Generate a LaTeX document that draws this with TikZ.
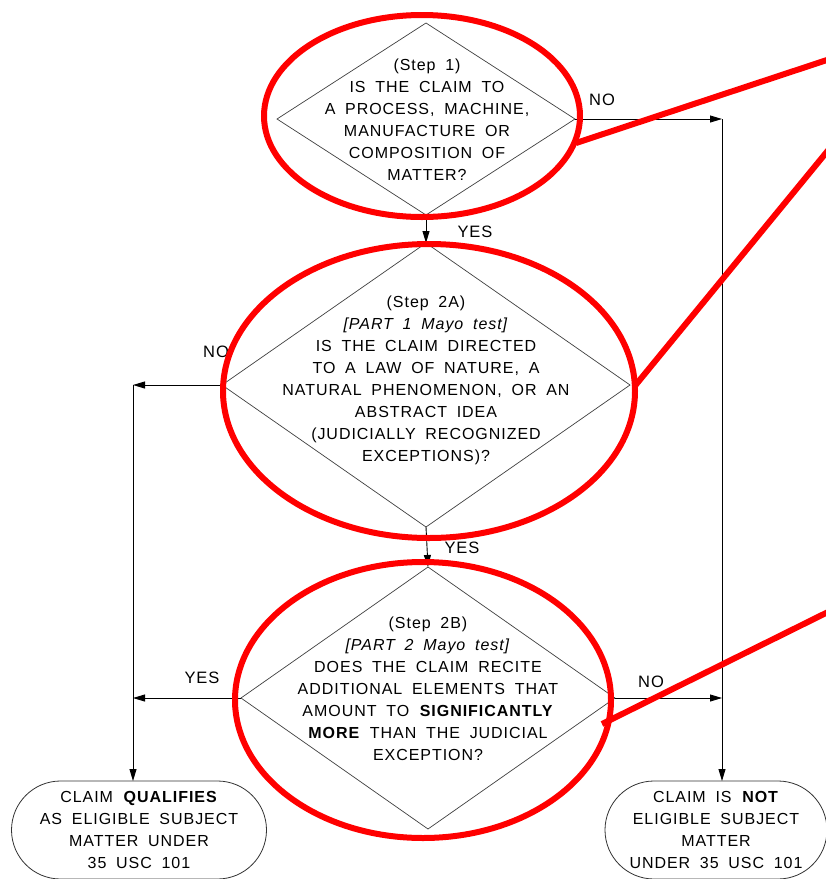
\documentclass[tikz,border=0pt]{standalone}
\usepackage{fontspec}
\setmainfont{Liberation Sans}[LetterSpace=6,WordSpace=1.8]
\usetikzlibrary{shapes.geometric,shapes.misc,arrows.meta}
\begin{document}
\begin{tikzpicture}[x=1pt,y=-1pt,
  dia/.style={diamond, draw=black!75, line width=0.7pt, inner sep=0pt, outer sep=0pt},
  term/.style={rounded rectangle, draw=black!80, line width=0.8pt, inner sep=0pt, outer sep=0pt, align=center, font=\fontsize{16}{21.7}\selectfont},
  txt/.style={align=center, inner sep=0pt, font=\fontsize{16}{22}\selectfont},
  lbl/.style={inner sep=0pt, font=\fontsize{16.5}{18}\selectfont},
  conn/.style={line width=0.9pt, draw=black},
  arr/.style={conn, -{Triangle[length=12pt,width=7pt]}},
  hl/.style={draw=red, line width=6pt},
]
\useasboundingbox (0,0) rectangle (826,879);
\fill[white] (0,0) rectangle (826,879);

% decision diamonds
\node[dia, minimum width=298, minimum height=192] (d1) at (426,119) {};
\node[dia, minimum width=408, minimum height=284] (d2) at (426,385) {};
\node[dia, minimum width=374, minimum height=262] (d3) at (428,698) {};

\node[txt] (d1t) at (427,120) {(Step 1)\\IS THE CLAIM TO\\A PROCESS, MACHINE,\\MANUFACTURE OR\\COMPOSITION OF\\MATTER?};
\node[txt] (d2t) at (426,380) {(Step 2A)\\\textit{[PART 1 Mayo test]}\\IS THE CLAIM DIRECTED\\TO A LAW OF NATURE, A\\NATURAL PHENOMENON, OR AN\\ABSTRACT IDEA\\(JUDICIALLY RECOGNIZED\\EXCEPTIONS)?};
\node[txt] (d3t) at (428,689) {(Step 2B)\\\textit{[PART 2 Mayo test]}\\DOES THE CLAIM RECITE\\ADDITIONAL ELEMENTS THAT\\AMOUNT TO \textbf{SIGNIFICANTLY}\\\textbf{MORE} THAN THE JUDICIAL\\EXCEPTION?};

% terminals
\node[term, minimum width=255, minimum height=98] (t1) at (139,830) {CLAIM \textbf{QUALIFIES}\\AS ELIGIBLE SUBJECT\\MATTER UNDER\\35 USC 101};
\node[term, minimum width=222, minimum height=98] (t2) at (716,830) {CLAIM IS \textbf{NOT}\\ELIGIBLE SUBJECT\\MATTER\\UNDER 35 USC 101};

% junctions
\coordinate (jR) at (722,119);
\coordinate (jL) at (133,385);

% connectors
\draw[arr] (d1.south) -- (d2.north);
\draw[arr] (d2.south) -- (d3.north);
\draw[arr] (d1.east) -- (jR);
\draw[arr] (jR) -- (jR |- t2.north);
\draw[arr] (d3.east) -- (d3.east -| jR);
\draw[arr] (d2.west) -- (jL);
\draw[arr] (jL) -- (jL |- t1.north);
\draw[arr] (d3.west) -- (d3.west -| jL);

% labels
\node[lbl] (l1) at (602,100) {NO};
\node[lbl] (l2) at (475,232) {YES};
\node[lbl] (l3) at (216,352) {NO};
\node[lbl] (l4) at (462,548) {YES};
\node[lbl] (l5) at (202,678) {YES};
\node[lbl] (l6) at (651,682) {NO};

% red highlights
\draw[hl] (422,116) ellipse [x radius=158pt, y radius=101pt];
\draw[hl] (429,391) ellipse [x radius=206pt, y radius=147pt];
\draw[hl] (423,700) ellipse [x radius=188pt, y radius=138pt];
\draw[hl] (576,143) -- (830,59);
\draw[hl] (634,387) -- (830,148);
\draw[hl] (602,724) -- (830,611);
\end{tikzpicture}
\end{document}
